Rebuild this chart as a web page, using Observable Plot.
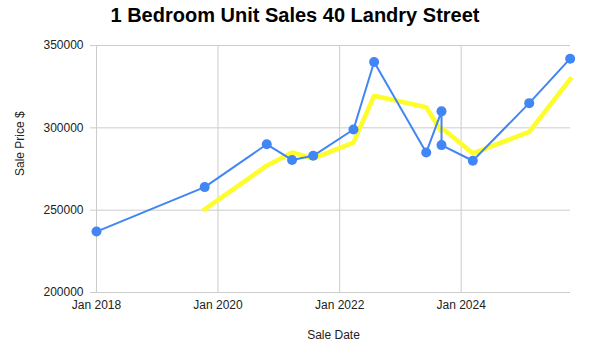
<!DOCTYPE html>
<html>
<head>
<meta charset="utf-8">
<script src="https://cdn.jsdelivr.net/npm/d3@7"></script>
<script src="https://cdn.jsdelivr.net/npm/@observablehq/plot@0.6"></script>
<style>
  html, body { margin: 0; padding: 0; background: #fff; }
  #wrap { width: 590px; }
  #title { width: 590px; height: 32px; padding-top: 4px; line-height: 34px; text-align: center;
           font: bold 20px "Liberation Sans", Arial, sans-serif; color: #000; box-sizing: content-box; }
  svg { display: block; }
</style>
</head>
<body>
<div id="wrap">
  <div id="title">1 Bedroom Unit Sales 40 Landry Street</div>
  <div id="chart"></div>
</div>
<script>
// Sale dates and prices
const saleDates = ["2018-01-01","2019-10-13","2020-10-20","2021-03-21","2021-07-26","2022-03-25","2022-07-27","2023-06-05","2023-09-05","2023-09-05","2024-03-11","2025-02-13","2025-10-17"];
const salePrices = [237000,264000,290000,280500,283000,299000,340000,285000,310000,289500,280000,315000,342000];
// Yellow trend line values at the same dates (null = not drawn)
const trendValues = [null,250500,277000,285000,281500,291000,319500,312500,297500,300000,284500,297500,329500];
// Axis ticks
const xTickYears = [2018, 2020, 2022, 2024];
const yTickValues = [200000, 250000, 300000, 350000];

const rows = saleDates.map((d, i) => ({date: new Date(d), price: salePrices[i], trend: trendValues[i]}));
const xTicks = xTickYears.map(y => new Date(Date.UTC(y, 0, 1)));

const chart = Plot.plot({
  width: 590,
  height: 318,
  marginTop: 9,
  marginBottom: 62,
  marginLeft: 96,
  marginRight: 20,
  style: {fontFamily: "'Liberation Sans', Arial, sans-serif", fontSize: "12px", color: "#222", background: "#fff", overflow: "visible"},
  x: {type: "utc", domain: [new Date("2018-01-01"), new Date("2025-10-19")]},
  y: {domain: [200000, 350000]},
  marks: [
    Plot.gridX(xTicks, {stroke: "#ccc", strokeOpacity: 1}),
    Plot.gridY(yTickValues, {stroke: "#ccc", strokeOpacity: 1}),
    Plot.axisY(yTickValues, {tickSize: 6, tickPadding: 7, stroke: "#ccc", fill: "#222", fontSize: 12, tickFormat: d => String(d), label: null}),
    Plot.axisX(xTicks, {tickSize: 0, tickPadding: 8, fill: "#222", fontSize: 12, tickFormat: d => "Jan " + d.getUTCFullYear(), label: null}),
    Plot.line(rows, {x: "date", y: "trend", stroke: "#fdfd2a", strokeWidth: 4.5, strokeLinecap: "square", strokeLinejoin: "miter"}),
    Plot.line(rows, {x: "date", y: "price", stroke: "#4285f4", strokeWidth: 2}),
    Plot.dot(rows, {x: "date", y: "price", r: 5, fill: "#4285f4"}),
    Plot.text(["Sale Date"], {text: d => d, frameAnchor: "bottom", dy: 46, fontSize: 12, fill: "#222"}),
    Plot.text(["Sale Price $"], {text: d => d, frameAnchor: "left", dx: -76, dy: 7, rotate: -90, fontSize: 12, fill: "#222"})
  ]
});
document.getElementById("chart").appendChild(chart);
</script>
</body>
</html>
